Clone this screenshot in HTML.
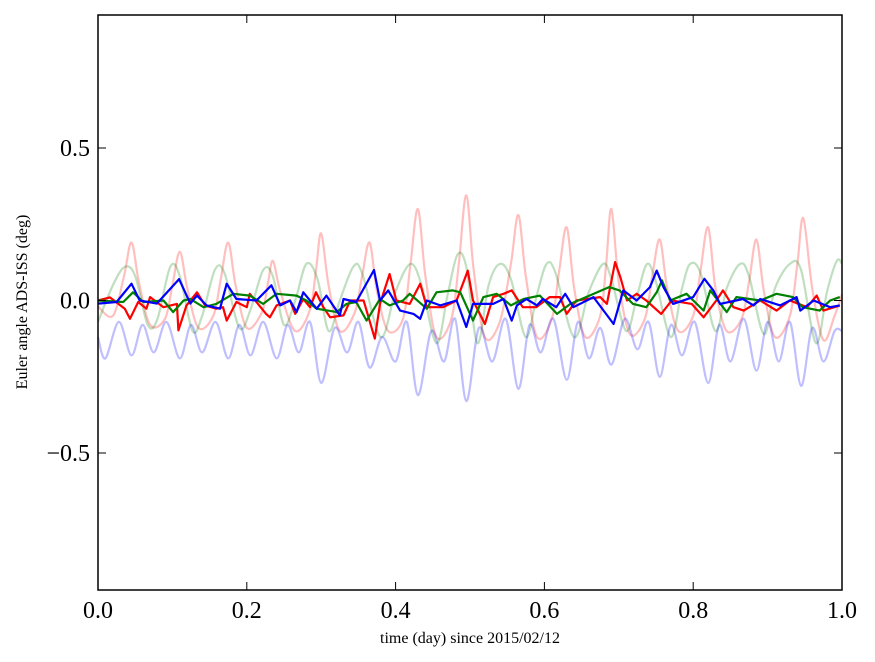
<!DOCTYPE html>
<html><head><meta charset="utf-8"><style>
body{margin:0;background:#fff;}
svg{display:block;font-family:"Liberation Serif",serif;}
</style></head><body>
<svg id="chart" width="875" height="662" viewBox="0 0 875 662" xmlns="http://www.w3.org/2000/svg">
<rect width="875" height="662" fill="#fff"/>
<g id="series"></g>
<g id="axes"></g>
<text x="470" y="643" font-size="16" text-anchor="middle">time (day) since 2015/02/12</text>
<text transform="translate(27,302) rotate(-90)" font-size="16" text-anchor="middle">Euler angle ADS-ISS (deg)</text>
</svg>
<script>
const xTicks=[0,0.2,0.4,0.6,0.8,1.0];
const xTickLabels=["0.0","0.2","0.4","0.6","0.8","1.0"];
const yTicks=[0.5,0,-0.5];
const yTickLabels=["0.5","0.0","\u22120.5"];

const fRedT=[0,0.02,0.035,0.045,0.055,0.07,0.09,0.1,0.11,0.12,0.135,0.155,0.165,0.175,0.185,0.2,0.22,0.228,0.235,0.245,0.265,0.285,0.293,0.3,0.31,0.325,0.345,0.355,0.365,0.375,0.39,0.41,0.42,0.43,0.44,0.455,0.475,0.485,0.495,0.505,0.52,0.54,0.555,0.565,0.575,0.59,0.61,0.62,0.63,0.64,0.655,0.675,0.683,0.69,0.7,0.715,0.735,0.745,0.755,0.765,0.78,0.8,0.81,0.82,0.83,0.845,0.865,0.875,0.885,0.895,0.91,0.93,0.94,0.948,0.96,0.975,0.99,1.0];
const fRedV=[-0.02,-0.05,0.08,0.19,0.06,-0.08,-0.06,0.05,0.16,0.04,-0.09,-0.05,0.07,0.19,0.05,-0.09,-0.04,0.05,0.13,0.03,-0.1,-0.03,0.1,0.22,0.05,-0.1,-0.04,0.08,0.19,0.03,-0.1,-0.06,0.12,0.30,0.08,-0.12,-0.06,0.12,0.345,0.1,-0.12,-0.07,0.12,0.28,0.08,-0.12,-0.06,0.1,0.24,0.04,-0.12,-0.05,0.12,0.30,0.06,-0.11,-0.06,0.08,0.2,0.04,-0.1,-0.05,0.1,0.24,0.04,-0.1,-0.06,0.06,0.2,0.03,-0.12,-0.05,0.12,0.27,0.04,-0.13,-0.05,0.02];

const fGreenT=[0,0.02,0.036,0.05,0.067,0.08,0.097,0.11,0.127,0.14,0.157,0.17,0.19,0.205,0.222,0.235,0.25,0.265,0.28,0.295,0.31,0.325,0.343,0.355,0.38,0.4,0.42,0.435,0.455,0.47,0.483,0.495,0.51,0.525,0.54,0.555,0.575,0.59,0.603,0.615,0.64,0.66,0.679,0.69,0.71,0.725,0.738,0.75,0.77,0.785,0.796,0.81,0.83,0.845,0.863,0.875,0.895,0.91,0.93,0.945,0.965,0.98,0.993,1.0];
const fGreenV=[-0.07,0.05,0.11,0.08,-0.08,-0.06,0.11,0.08,-0.1,-0.05,0.1,0.09,-0.09,-0.03,0.1,0.08,-0.08,0.0,0.12,0.07,-0.1,0.0,0.11,0.09,-0.12,0.03,0.12,0.05,-0.14,0.02,0.15,0.11,-0.14,0.05,0.12,0.07,-0.12,0.02,0.12,0.09,-0.12,0.03,0.12,0.07,-0.1,0.02,0.12,0.06,-0.12,0.04,0.12,0.09,-0.1,0.04,0.12,0.08,-0.11,0.04,0.12,0.1,-0.14,0.03,0.13,0.12];

const fBlueT=[0,0.01,0.028,0.045,0.06,0.075,0.092,0.11,0.125,0.14,0.158,0.175,0.19,0.205,0.222,0.24,0.255,0.27,0.285,0.3,0.318,0.335,0.35,0.365,0.382,0.4,0.415,0.43,0.448,0.465,0.48,0.495,0.512,0.53,0.548,0.565,0.58,0.595,0.612,0.63,0.645,0.66,0.675,0.69,0.708,0.725,0.74,0.755,0.77,0.785,0.802,0.82,0.835,0.85,0.868,0.885,0.9,0.915,0.93,0.945,0.96,0.975,0.99,1.0];
const fBlueV=[-0.12,-0.19,-0.07,-0.18,-0.08,-0.17,-0.07,-0.19,-0.08,-0.17,-0.07,-0.19,-0.08,-0.18,-0.07,-0.19,-0.08,-0.17,-0.07,-0.27,-0.09,-0.17,-0.07,-0.22,-0.12,-0.2,-0.07,-0.31,-0.1,-0.2,-0.06,-0.33,-0.09,-0.2,-0.06,-0.29,-0.08,-0.17,-0.06,-0.26,-0.07,-0.19,-0.09,-0.21,-0.06,-0.16,-0.07,-0.25,-0.08,-0.18,-0.07,-0.27,-0.08,-0.2,-0.06,-0.23,-0.07,-0.2,-0.07,-0.28,-0.09,-0.2,-0.1,-0.1];

const redT=[0,0.016,0.036,0.043,0.054,0.065,0.07,0.088,0.106,0.108,0.119,0.133,0.144,0.159,0.168,0.173,0.186,0.2,0.204,0.226,0.231,0.24,0.258,0.265,0.276,0.285,0.293,0.303,0.312,0.33,0.339,0.357,0.372,0.379,0.392,0.401,0.419,0.433,0.442,0.464,0.482,0.497,0.504,0.52,0.531,0.545,0.556,0.571,0.589,0.607,0.621,0.63,0.643,0.675,0.684,0.695,0.702,0.711,0.724,0.737,0.757,0.771,0.798,0.814,0.831,0.84,0.854,0.868,0.89,0.912,0.93,0.953,0.966,0.975,0.997];
const redV=[0,0.01,-0.027,-0.06,-0.005,-0.027,0.011,-0.022,-0.011,-0.098,-0.016,0.027,-0.016,-0.027,-0.022,-0.066,-0.005,-0.022,0.022,-0.044,-0.055,-0.016,0,-0.044,0.005,-0.022,0.027,-0.022,-0.055,-0.049,0,0,-0.125,-0.011,0.087,0,-0.011,0.055,-0.022,-0.022,0,0.098,0,-0.077,0.011,0.022,0.033,-0.022,-0.022,0.011,0.011,-0.044,0,0.011,-0.011,0.126,0.077,0,0.022,0,-0.044,0,-0.011,-0.055,0,0.033,-0.022,-0.033,0,-0.033,0,-0.022,0.016,-0.033,-0.016];

const greenT=[0,0.034,0.047,0.061,0.088,0.101,0.115,0.124,0.142,0.159,0.182,0.204,0.222,0.24,0.267,0.28,0.294,0.321,0.334,0.347,0.361,0.379,0.392,0.41,0.419,0.442,0.455,0.477,0.487,0.504,0.518,0.536,0.555,0.572,0.594,0.617,0.635,0.687,0.701,0.719,0.737,0.751,0.758,0.769,0.791,0.814,0.823,0.845,0.858,0.89,0.912,0.934,0.947,0.97,0.984,0.997];
const greenV=[0,-0.005,0.027,-0.005,0,-0.038,0,0.005,-0.022,-0.011,0.022,0.016,-0.011,0.022,0.016,0,-0.027,-0.038,-0.011,-0.005,-0.066,0.005,-0.016,0,0.022,-0.027,0.027,0.033,0.027,-0.066,0.011,0.022,-0.016,0.005,0.016,-0.044,-0.011,0.044,0.033,-0.011,-0.022,0.027,0.066,0,0.022,-0.033,0.033,-0.038,0.011,0,0.022,0.011,-0.022,-0.033,0,0.011];

const blueT=[0,0.025,0.045,0.056,0.079,0.109,0.124,0.133,0.146,0.164,0.173,0.186,0.213,0.233,0.245,0.258,0.267,0.276,0.294,0.307,0.325,0.33,0.347,0.371,0.379,0.39,0.406,0.424,0.433,0.442,0.46,0.482,0.495,0.504,0.531,0.545,0.556,0.563,0.576,0.59,0.598,0.616,0.628,0.639,0.666,0.693,0.706,0.724,0.742,0.751,0.76,0.773,0.8,0.815,0.827,0.836,0.867,0.881,0.89,0.917,0.939,0.944,0.962,0.984,0.997];
const blueV=[-0.01,-0.005,0.055,0,-0.01,0.07,-0.01,0.016,-0.016,-0.027,0.055,0.005,0,0.05,-0.016,0,-0.038,0.027,-0.027,0.016,-0.049,0.005,-0.005,0.1,0,0.033,-0.033,-0.044,-0.06,0,-0.016,0,-0.087,-0.011,-0.011,0.005,-0.066,-0.016,0.005,-0.016,0.005,-0.022,0.022,-0.022,0.011,-0.077,0.033,0,0.044,0.098,0.044,-0.011,0.011,0.071,0.033,-0.011,0.005,-0.016,0.005,-0.016,0.011,-0.033,0,-0.022,-0.016];

const X0=98,X1=842,Y0=15,Y1=590;
function sx(t){return X0+t*(X1-X0);}
function sy(v){return 300.5-v*305;}
const NS="http://www.w3.org/2000/svg";
const sg=document.getElementById('series');
function line(T,V,color,op,name,smooth){
  const p=document.createElementNS(NS,'path');
  const P=T.map((t,i)=>[sx(t),sy(V[i])]);
  let d='M'+P[0][0].toFixed(1)+','+P[0][1].toFixed(1);
  for(let i=1;i<P.length;i++){
    if(smooth){
      const p0=P[Math.max(0,i-2)],p1=P[i-1],p2=P[i],p3=P[Math.min(P.length-1,i+1)];
      const c1x=p1[0]+(p2[0]-p0[0])/6,c1y=p1[1]+(p2[1]-p0[1])/6;
      const c2x=p2[0]-(p3[0]-p1[0])/6,c2y=p2[1]-(p3[1]-p1[1])/6;
      d+='C'+c1x.toFixed(1)+','+c1y.toFixed(1)+' '+c2x.toFixed(1)+','+c2y.toFixed(1)+' '+p2[0].toFixed(1)+','+p2[1].toFixed(1);
    } else d+='L'+P[i][0].toFixed(1)+','+P[i][1].toFixed(1);
  }
  p.setAttribute('d',d);p.setAttribute('fill','none');p.setAttribute('stroke',color);
  p.setAttribute('stroke-opacity',op);p.setAttribute('stroke-width','2.2');p.setAttribute('stroke-linejoin','round');
  
  
  sg.appendChild(p);
}
line(fRedT,fRedV,'#ff0000',0.25,'series-red-faint',true);
line(fGreenT,fGreenV,'#008000',0.25,'series-green-faint',true);
line(fBlueT,fBlueV,'#0000ff',0.25,'series-blue-faint',true);
line(redT,redV,'#ff0000',1,'series-red',false);
line(greenT,greenV,'#008000',1,'series-green',false);
line(blueT,blueV,'#0000ff',1,'series-blue',false);

const ax=document.getElementById('axes');
const fr=document.createElementNS(NS,'rect');
fr.setAttribute('x',X0);fr.setAttribute('y',Y0);fr.setAttribute('width',X1-X0);fr.setAttribute('height',Y1-Y0);
fr.setAttribute('fill','none');fr.setAttribute('stroke','#000');fr.setAttribute('stroke-width','1.5');


ax.appendChild(fr);
function ln(x1,y1,x2,y2){const l=document.createElementNS(NS,'line');l.setAttribute('x1',x1);l.setAttribute('y1',y1);l.setAttribute('x2',x2);l.setAttribute('y2',y2);l.setAttribute('stroke','#000');l.setAttribute('stroke-width','1');


ax.appendChild(l);}
function tx(x,y,s,anchor,name){const t=document.createElementNS(NS,'text');t.setAttribute('x',x);t.setAttribute('y',y);t.setAttribute('font-size','24');t.setAttribute('text-anchor',anchor);t.textContent=s;


ax.appendChild(t);}
xTicks.forEach((v,i)=>{const x=sx(v);ln(x,Y1,x,Y1-8);ln(x,Y0,x,Y0+8);tx(x,618,xTickLabels[i],'middle','x-tick-label');});
yTicks.forEach((v,i)=>{const y=sy(v);ln(X0,y,X0+8,y);ln(X1,y,X1-8,y);tx(90,y+8,yTickLabels[i],'end','y-tick-label');});
</script>
</body></html>
